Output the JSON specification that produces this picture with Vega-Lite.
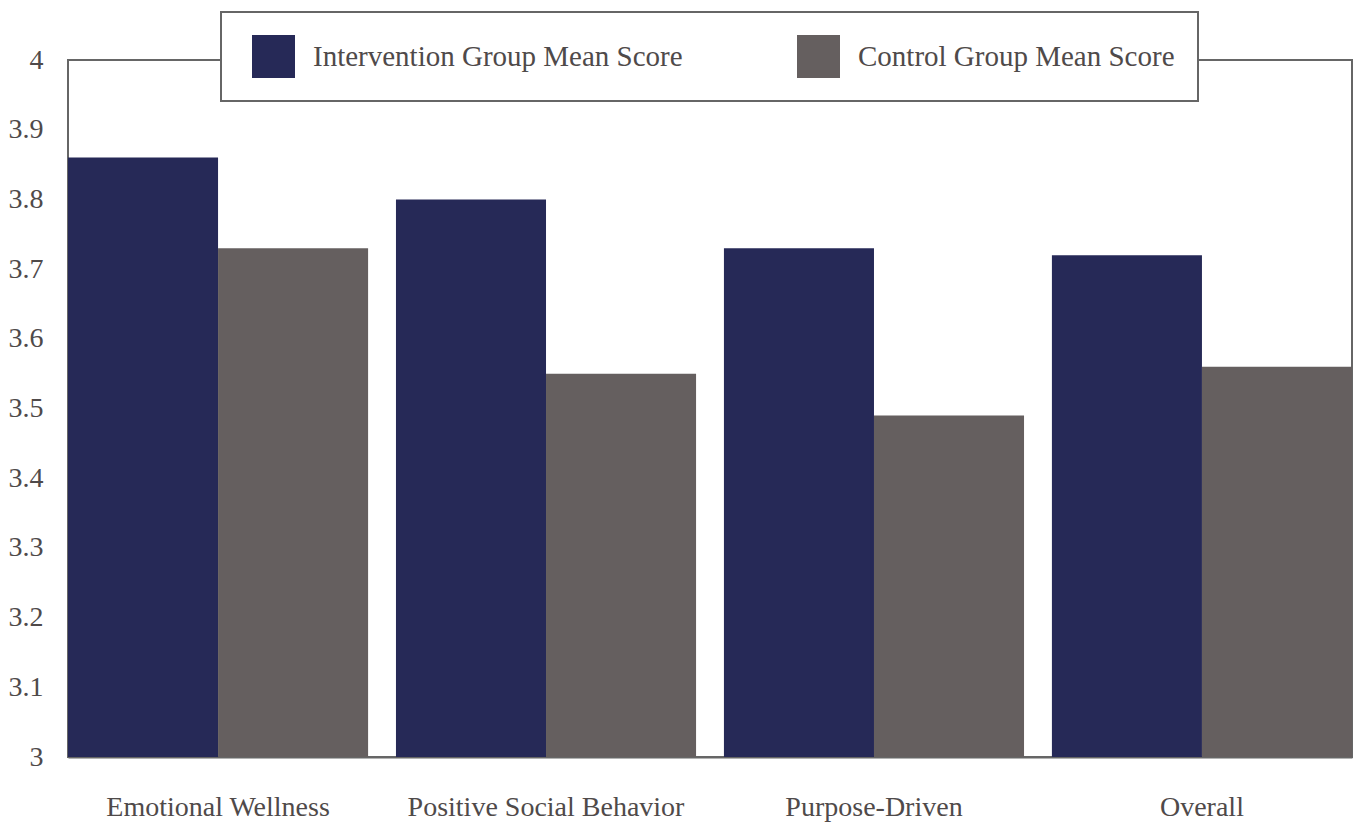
{
  "$schema": "https://vega.github.io/schema/vega-lite/v6.json",
  "width": 1284,
  "height": 697,
  "autosize": {"type": "none"},
  "padding": {"left": 68, "top": 60, "right": 4, "bottom": 69},
  "background": "white",
  "data": {
    "values": [
      {"category": "Emotional Wellness", "group": "Intervention Group Mean Score", "score": 3.86},
      {"category": "Emotional Wellness", "group": "Control Group Mean Score", "score": 3.73},
      {"category": "Positive Social Behavior", "group": "Intervention Group Mean Score", "score": 3.80},
      {"category": "Positive Social Behavior", "group": "Control Group Mean Score", "score": 3.55},
      {"category": "Purpose-Driven", "group": "Intervention Group Mean Score", "score": 3.73},
      {"category": "Purpose-Driven", "group": "Control Group Mean Score", "score": 3.49},
      {"category": "Overall", "group": "Intervention Group Mean Score", "score": 3.72},
      {"category": "Overall", "group": "Control Group Mean Score", "score": 3.56}
    ]
  },
  "mark": {"type": "bar"},
  "encoding": {
    "x": {
      "field": "category",
      "type": "nominal",
      "sort": null,
      "scale": {"paddingInner": 0.085, "paddingOuter": 0},
      "axis": {
        "title": null,
        "labelAngle": 0,
        "ticks": false,
        "domain": true,
        "domainColor": "#666666",
        "domainWidth": 2,
        "labelPadding": 36,
        "labelLimit": 500,
        "labelFont": "Liberation Serif",
        "labelFontSize": 28,
        "labelFontWeight": "normal",
        "labelColor": "#4f4a4a"
      }
    },
    "xOffset": {
      "field": "group",
      "type": "nominal",
      "sort": ["Intervention Group Mean Score", "Control Group Mean Score"],
      "scale": {"paddingInner": 0, "paddingOuter": 0}
    },
    "y": {
      "field": "score",
      "type": "quantitative",
      "scale": {"domain": [3, 4], "nice": false, "zero": false, "clamp": true},
      "axis": {
        "title": null,
        "values": [3, 3.1, 3.2, 3.3, 3.4, 3.5, 3.6, 3.7, 3.8, 3.9, 4],
        "format": "~g",
        "grid": false,
        "ticks": false,
        "domain": false,
        "labelPadding": 25,
        "labelFont": "Liberation Serif",
        "labelFontSize": 28,
        "labelFontWeight": "normal",
        "labelColor": "#4f4a4a"
      }
    },
    "color": {
      "field": "group",
      "type": "nominal",
      "sort": ["Intervention Group Mean Score", "Control Group Mean Score"],
      "scale": {
        "domain": ["Intervention Group Mean Score", "Control Group Mean Score"],
        "range": ["#262957", "#655f5f"]
      },
      "legend": {
        "title": null,
        "orient": "none",
        "legendX": 153,
        "legendY": -48,
        "direction": "horizontal",
        "fillColor": "white",
        "strokeColor": "#666666",
        "padding": 23,
        "columnPadding": 106,
        "symbolType": "square",
        "symbolSize": 1849,
        "symbolOffset": 8,
        "symbolStrokeWidth": 0,
        "symbolOpacity": 1,
        "labelOffset": 18,
        "labelFont": "Liberation Serif",
        "labelFontSize": 29,
        "labelFontWeight": "normal",
        "labelColor": "#4f4a4a",
        "labelLimit": 600
      }
    }
  },
  "config": {
    "view": {"stroke": "#666666", "strokeWidth": 2},
    "legend": {"strokeWidth": 2}
  }
}
